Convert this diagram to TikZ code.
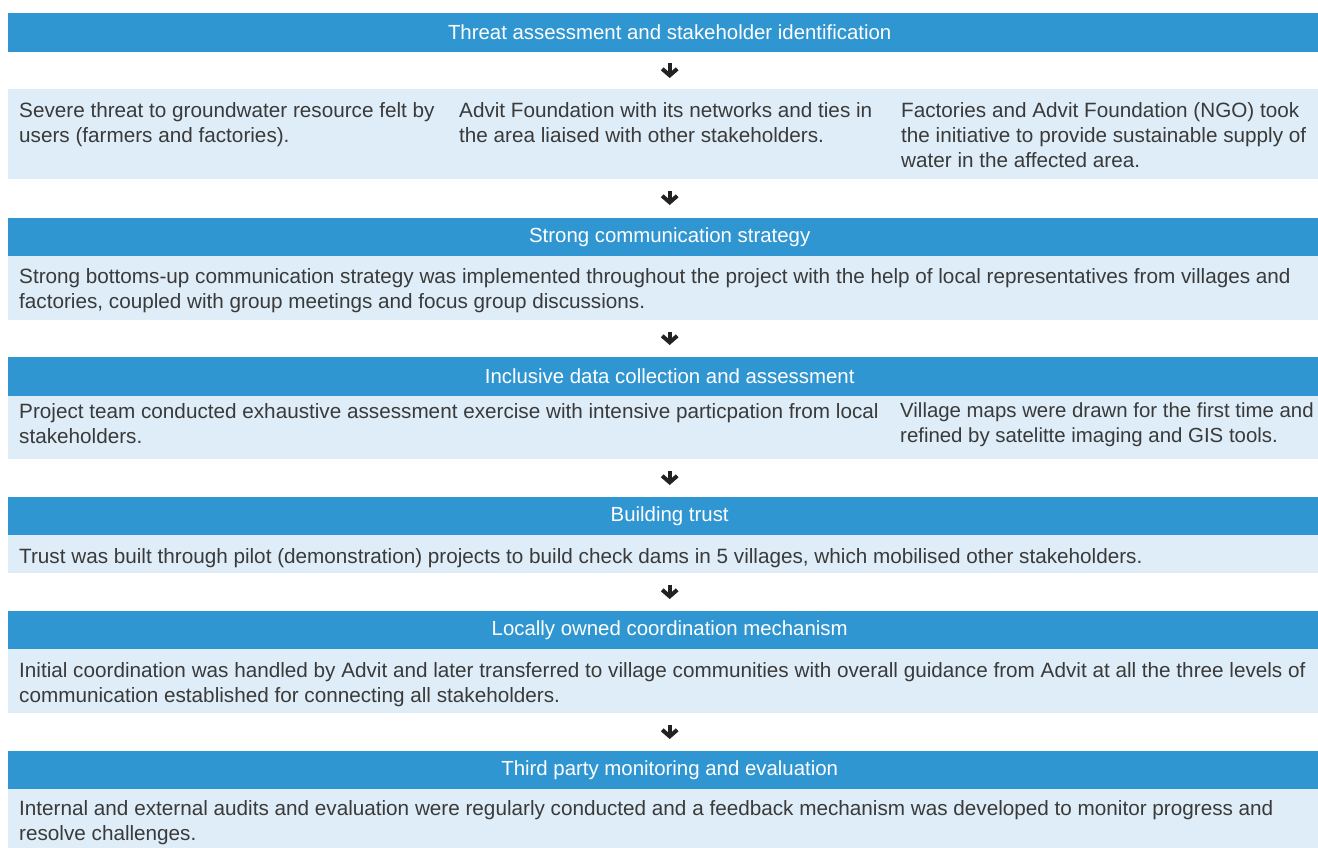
\documentclass[tikz,border=0pt]{standalone}
\usepackage{fontspec}
\setmainfont{Liberation Sans}
\usetikzlibrary{calc,arrows.meta}
\definecolor{hblue}{RGB}{48,150,210}
\definecolor{lblue}{RGB}{222,237,247}
\definecolor{tgray}{RGB}{58,58,58}
\definecolor{agray}{RGB}{34,34,34}
\newcommand{\bfnt}{\fontsize{20.7pt}{25pt}\selectfont}
\newcommand{\sfnt}{\fontsize{20.4pt}{25pt}\selectfont}
\newcommand{\hfnt}{\fontsize{20.4pt}{25pt}\selectfont}
\begin{document}
\begin{tikzpicture}[x=1pt,y=-1pt,
  hdr/.style={rectangle, fill=hblue, text=white, minimum width=1323pt, minimum height=#1, anchor=north west, inner sep=0pt, font=\hfnt},
  hdr/.default=38pt,
  body/.style={rectangle, fill=lblue, minimum width=1323pt, minimum height=#1, anchor=north west, inner sep=0pt},
  txt/.style={anchor=north west, align=left, text=tgray, inner sep=0pt, font=\bfnt},
  arr/.style={draw=agray, line width=4pt, -{Straight Barb[length=6.5pt, width=15pt, line width=4pt, line join=miter]}}
]
\useasboundingbox (0,0) rectangle (1318,847);
\begin{scope}
\clip (0,0) rectangle (1318,847);
% boxes
\node[hdr=39pt] (h1) at (8,13) {Threat assessment and stakeholder identification};
\node[body=90pt] (c1) at (8,89) {};
\node[hdr=38pt] (h2) at (8,218) {Strong communication strategy};
\node[body=64pt] (c2) at (8,256) {};
\node[hdr=39pt] (h3) at (8,357) {Inclusive data collection and assessment};
\node[body=63pt] (c3) at (8,396) {};
\node[hdr=38pt] (h4) at (8,497) {Building trust};
\node[body=38pt] (c4) at (8,535) {};
\node[hdr=38pt] (h5) at (8,611) {Locally owned coordination mechanism};
\node[body=64pt] (c5) at (8,649) {};
\node[hdr=38pt] (h6) at (8,751) {Third party monitoring and evaluation};
\node[body=64pt] (c6) at (8,789) {};
% texts
\node[txt] (t1a) at (19,102) {Severe threat to groundwater resource felt by\\users (farmers and factories).};
\node[txt] (t1b) at (459,102) {Advit Foundation with its networks and ties in\\the area liaised with other stakeholders.};
\node[txt] (t1c) at (901,102) {Factories and Advit Foundation (NGO) took\\the initiative to provide sustainable supply of\\water in the affected area.};
\node[txt] (t2) at (19,268) {Strong bottoms-up communication strategy was implemented throughout the project with the help of local representatives from villages and\\factories, coupled with group meetings and focus group discussions.};
\node[txt] (t3a) at (19,403) {Project team conducted exhaustive assessment exercise with intensive particpation from local\\stakeholders.};
\node[txt, font=\sfnt] (t3b) at (900,403) {Village maps were drawn for the first time and\\refined by satelitte imaging and GIS tools.};
\node[txt] (t4) at (19,548) {Trust was built through pilot (demonstration) projects to build check dams in 5 villages, which mobilised other stakeholders.};
\node[txt] (t5) at (19,662) {Initial coordination was handled by Advit and later transferred to village communities with overall guidance from Advit at all the three levels of\\communication established for connecting all stakeholders.};
\node[txt] (t6) at (19,800) {Internal and external audits and evaluation were regularly conducted and a feedback mechanism was developed to monitor progress and\\resolve challenges.};
% arrows
\draw[arr] ($(h1.south)+(0,11)$) -- ($(c1.north)+(0,-11)$);
\draw[arr] ($(c1.south)+(0,12)$) -- ($(h2.north)+(0,-13)$);
\draw[arr] ($(c2.south)+(0,12)$) -- ($(h3.north)+(0,-12)$);
\draw[arr] ($(c3.south)+(0,12)$) -- ($(h4.north)+(0,-12)$);
\draw[arr] ($(c4.south)+(0,12)$) -- ($(h5.north)+(0,-12)$);
\draw[arr] ($(c5.south)+(0,12)$) -- ($(h6.north)+(0,-12)$);
\end{scope}
\end{tikzpicture}
\end{document}
